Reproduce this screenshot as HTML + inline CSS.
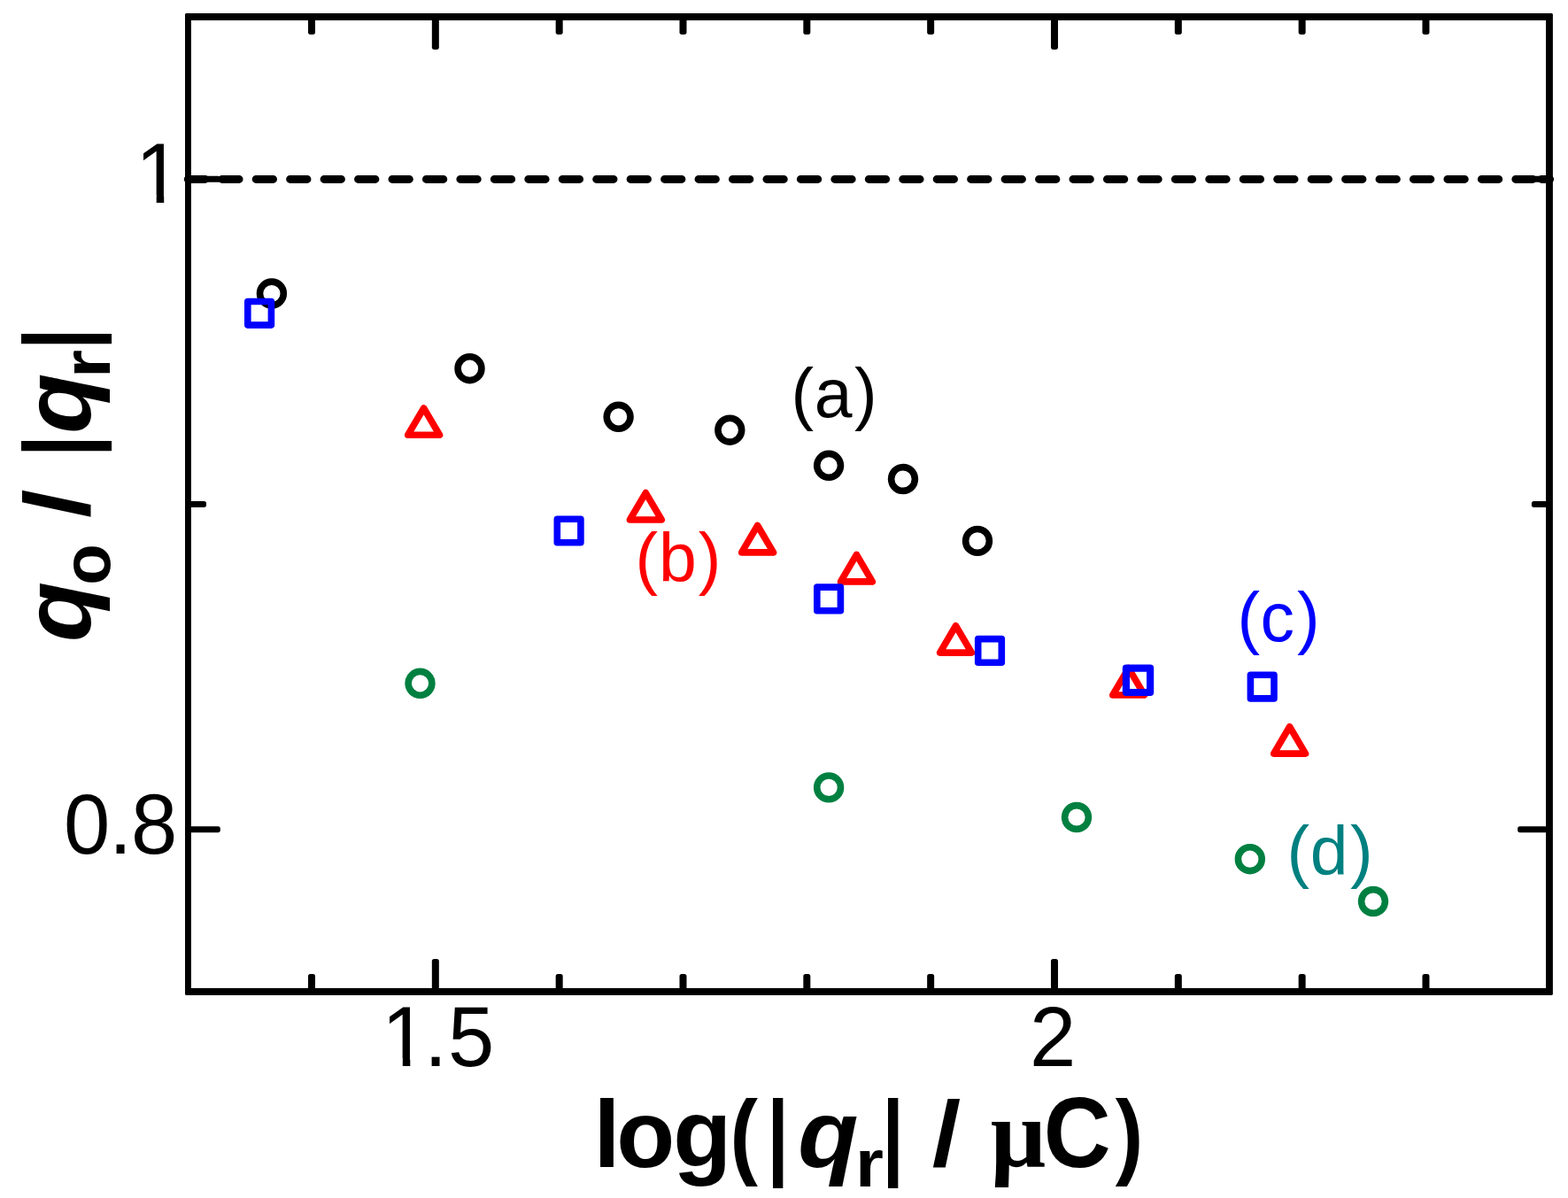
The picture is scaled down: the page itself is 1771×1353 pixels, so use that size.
<!DOCTYPE html>
<html>
<head>
<meta charset="utf-8">
<title>qo / |qr| versus log(|qr| / µC)</title>
<style>
html,body{margin:0;padding:0;background:#fff;}
body{width:1771px;height:1353px;overflow:hidden;}
svg{display:block;}
text{font-family:"Liberation Sans",sans-serif;white-space:pre;}
.tk{fill:#000;stroke:none;}
</style>
</head>
<body>
<svg width="1771" height="1353" viewBox="0 0 1771 1353">
<defs><clipPath id="k0"><path clip-rule="evenodd" d="M0 0H1771V1353H0Z M150.7 220.4H176.7V232.0H150.7Z M185.2 220.4H207.2V232.0H185.2Z"/></clipPath><clipPath id="k1"><path clip-rule="evenodd" d="M0 0H1771V1353H0Z M428.8 1195.3H454.8V1206.9H428.8Z M463.3 1195.3H485.3V1206.9H463.3Z"/></clipPath></defs>
<rect x="0" y="0" width="1771" height="1353" fill="#fff"/>
<!-- data series -->
<g id="data">
<g fill="none" stroke="#008040" stroke-width="7.6">
<circle cx="474.5" cy="771.8" r="13.4"/>
<circle cx="936.1" cy="889.4" r="13.4"/>
<circle cx="1216.0" cy="923.0" r="13.4"/>
<circle cx="1411.8" cy="970.2" r="13.4"/>
<circle cx="1551.0" cy="1018.0" r="13.4"/>
</g>
<g fill="none" stroke="#000" stroke-width="7.6">
<circle cx="306.9" cy="331.5" r="13.4"/>
<circle cx="530.5" cy="416.2" r="13.4"/>
<circle cx="698.6" cy="470.8" r="13.4"/>
<circle cx="824.3" cy="485.7" r="13.4"/>
<circle cx="936.1" cy="525.8" r="13.4"/>
<circle cx="1020.0" cy="541.0" r="13.4"/>
<circle cx="1104.0" cy="610.9" r="13.4"/>
</g>
<g fill="none" stroke="#f00" stroke-width="7.6" stroke-linejoin="round">
<path d="M478.6 460.9L496.5 491.2L460.7 491.2Z"/>
<path d="M729.3 556.6L747.2 587.0L711.4 587.0Z"/>
<path d="M855.6 593.5L873.5 623.9L837.7 623.9Z"/>
<path d="M967.4 626.4L985.3 656.9L949.5 656.9Z"/>
<path d="M1079.5 706.7L1097.4 737.1L1061.6 737.1Z"/>
<path d="M1274.7 754.6L1292.6 785.0L1256.8 785.0Z"/>
<path d="M1456.6 820.7L1474.5 851.1L1438.7 851.1Z"/>
</g>
<g fill="none" stroke="#00f" stroke-width="7.6" stroke-linejoin="round">
<rect x="279.8" y="340.5" width="26.6" height="26.6"/>
<rect x="629.3" y="586.2" width="26.6" height="26.6"/>
<rect x="922.8" y="663.1" width="26.6" height="26.6"/>
<rect x="1104.7" y="721.6" width="26.6" height="26.6"/>
<rect x="1271.9" y="754.7" width="27.2" height="27.3" stroke-width="8.2"/>
<rect x="1412.4" y="762.3" width="26.6" height="26.6"/>
</g>
</g>
<!-- axis ticks -->
<g class="tk" id="ticks">
<rect x="348.00" y="1099.90" width="8.0" height="21.00" rx="2.6"/>
<rect x="348.00" y="17.90" width="8.0" height="21.00" rx="2.6"/>
<rect x="487.83" y="1082.90" width="8.0" height="38.00" rx="2.6"/>
<rect x="487.83" y="17.90" width="8.0" height="38.00" rx="2.6"/>
<rect x="627.66" y="1099.90" width="8.0" height="21.00" rx="2.6"/>
<rect x="627.66" y="17.90" width="8.0" height="21.00" rx="2.6"/>
<rect x="767.49" y="1099.90" width="8.0" height="21.00" rx="2.6"/>
<rect x="767.49" y="17.90" width="8.0" height="21.00" rx="2.6"/>
<rect x="907.32" y="1099.90" width="8.0" height="21.00" rx="2.6"/>
<rect x="907.32" y="17.90" width="8.0" height="21.00" rx="2.6"/>
<rect x="1047.15" y="1099.90" width="8.0" height="21.00" rx="2.6"/>
<rect x="1047.15" y="17.90" width="8.0" height="21.00" rx="2.6"/>
<rect x="1186.98" y="1082.90" width="8.0" height="38.00" rx="2.6"/>
<rect x="1186.98" y="17.90" width="8.0" height="38.00" rx="2.6"/>
<rect x="1326.81" y="1099.90" width="8.0" height="21.00" rx="2.6"/>
<rect x="1326.81" y="17.90" width="8.0" height="21.00" rx="2.6"/>
<rect x="1466.64" y="1099.90" width="8.0" height="21.00" rx="2.6"/>
<rect x="1466.64" y="17.90" width="8.0" height="21.00" rx="2.6"/>
<rect x="1606.47" y="1099.90" width="8.0" height="21.00" rx="2.6"/>
<rect x="1606.47" y="17.90" width="8.0" height="21.00" rx="2.6"/>
<rect x="212.00" y="198.80" width="36.80" height="7.0" rx="2.6"/>
<rect x="1714.10" y="198.80" width="36.80" height="7.0" rx="2.6"/>
<rect x="212.00" y="565.95" width="21.00" height="7.0" rx="2.6"/>
<rect x="1729.90" y="565.95" width="21.00" height="7.0" rx="2.6"/>
<rect x="212.00" y="933.15" width="36.80" height="7.0" rx="2.6"/>
<rect x="1714.10" y="933.15" width="36.80" height="7.0" rx="2.6"/>
</g>
<!-- reference line at 1 -->
<path d="M212.3 202.4H1735 M1741.2 202.4H1750.6" fill="none" stroke="#000" stroke-width="9" stroke-linecap="round" stroke-dasharray="19.3 19.15"/>
<!-- frame -->
<path fill="#000" fill-rule="evenodd" d="M210.0 14.9H1752.9L1753.9 15.9V1122.9L1752.9 1123.9H210.0L209.0 1122.9V15.9Z M215.87 22.94H1746.0V1116.1H215.87Z"/>
<!-- tick labels -->
<g font-size="94" fill="#000">
<g clip-path="url(#k0)"><text transform="matrix(1 0 0 1.024 0 229.0)" x="152.9" y="0">1</text></g>
<text transform="matrix(1 0 0 1.024 0 963.8)" x="71.9 122.9 148.0" y="0">0.8</text>
<g clip-path="url(#k1)"><text transform="matrix(1 0 0 1.024 0 1203.9)" x="431.1 478.9 505.9" y="0">1.5</text></g>
<text transform="matrix(1 0 0 1.024 0 1203.9)" x="1163.0" y="0">2</text>
</g>
<!-- axis labels -->
<text id="xl" y="1317.8" font-size="108" font-weight="bold"><tspan x="670.5 696.3 760.2">log</tspan><tspan x="824.5" textLength="31.47" lengthAdjust="spacingAndGlyphs">(</tspan><tspan x="866.2" textLength="24.78" lengthAdjust="spacingAndGlyphs">|</tspan><tspan x="901.3" font-style="italic" textLength="68.28" lengthAdjust="spacingAndGlyphs">q</tspan><tspan x="965.9" dy="22.3" font-size="76" textLength="31.94" lengthAdjust="spacingAndGlyphs">r</tspan><tspan x="996.2" dy="-22.3" textLength="24.78" lengthAdjust="spacingAndGlyphs">|</tspan> <tspan x="1052.7" dy="-2.1" font-size="104.6" textLength="32.49" lengthAdjust="spacingAndGlyphs">/</tspan> <tspan x="1118.3" dy="2.1" font-family="'Liberation Serif',serif" font-size="110">µ</tspan><tspan x="1178.7" font-size="113" textLength="75.89" lengthAdjust="spacingAndGlyphs">C</tspan><tspan x="1259.8" font-size="108" textLength="31.47" lengthAdjust="spacingAndGlyphs">)</tspan></text>
<text id="yl" transform="rotate(-90)" y="101.8" font-size="108" font-weight="bold"><tspan x="-724.9" font-style="italic" textLength="68.28" lengthAdjust="spacingAndGlyphs">q</tspan><tspan x="-660.8" dy="22.5" font-size="76">o</tspan> <tspan x="-584.9" dy="-24.6" font-size="104.6" textLength="32.49" lengthAdjust="spacingAndGlyphs">/</tspan> <tspan x="-516.0" dy="2.1" textLength="24.78" lengthAdjust="spacingAndGlyphs">|</tspan><tspan x="-489.8" font-style="italic" textLength="68.28" lengthAdjust="spacingAndGlyphs">q</tspan><tspan x="-427.0" dy="22.5" font-size="76" textLength="31.94" lengthAdjust="spacingAndGlyphs">r</tspan><tspan x="-394.9" dy="-22.5" textLength="24.78" lengthAdjust="spacingAndGlyphs">|</tspan></text>
<!-- series labels -->
<g font-size="76.9">
<text x="893.6 919.7 965.0" y="471.0" fill="#000">(a)</text>
<text x="717.6 743.9 788.8" y="657.0" fill="#f00">(b)</text>
<text x="1397.6 1423.6 1464.9" y="724.2" fill="#00f">(c)</text>
<text x="1453.6 1479.8 1524.9" y="988.2" fill="#008080">(d)</text>
</g>
</svg>
</body>
</html>
